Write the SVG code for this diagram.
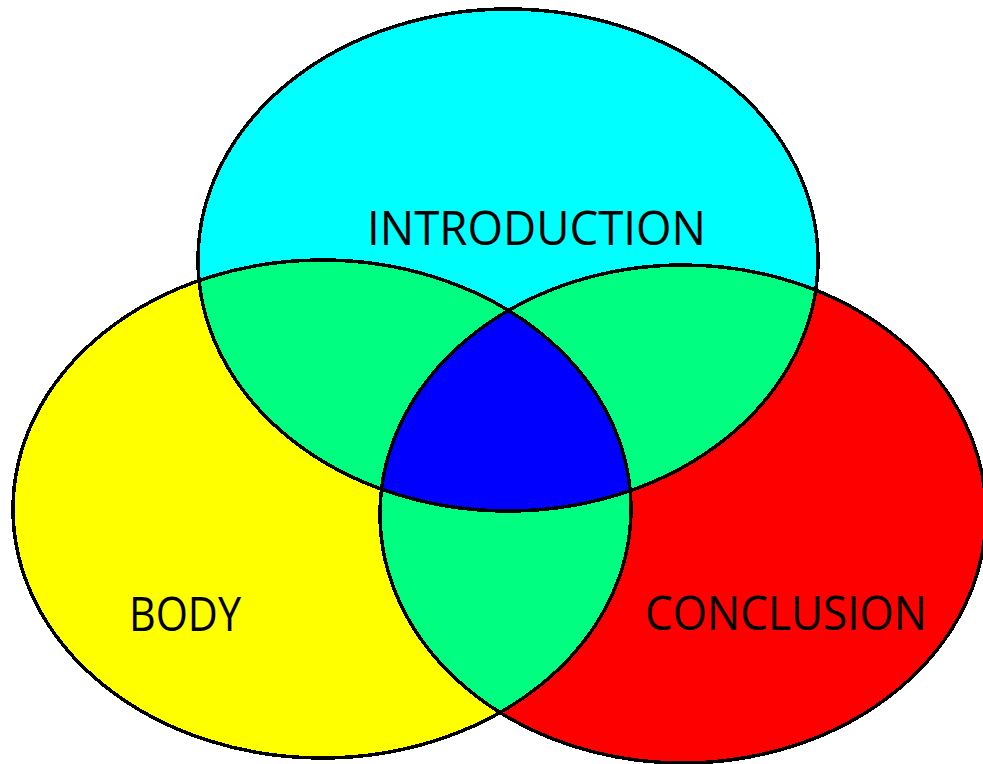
<svg xmlns="http://www.w3.org/2000/svg" width="983" height="764" viewBox="0 0 983 764">
<style>
.o{fill:none;stroke:#000;stroke-width:3.5}
.t{font-family:"Open Sans","Liberation Sans",sans-serif;font-size:48px;fill:#000}
</style>
<defs>
<ellipse id="eI" cx="508" cy="260" rx="310" ry="251"/>
<ellipse id="eB" cx="322" cy="509" rx="309" ry="249"/>
<ellipse id="eC" cx="683" cy="514" rx="303" ry="249"/>
<clipPath id="cI"><use href="#eI"/></clipPath>
<clipPath id="cB"><use href="#eB"/></clipPath>
<clipPath id="cC"><use href="#eC"/></clipPath>
</defs>
<rect width="983" height="764" fill="#fff"/>
<g shape-rendering="crispEdges">
<use href="#eI" fill="#00FFFF"/>
<use href="#eB" fill="#FFFF00"/>
<use href="#eC" fill="#FF0000"/>
<g clip-path="url(#cI)"><use href="#eB" fill="#00FF80"/><use href="#eC" fill="#00FF80"/></g>
<g clip-path="url(#cB)"><use href="#eC" fill="#00FF80"/></g>
<g clip-path="url(#cI)"><g clip-path="url(#cB)"><use href="#eC" fill="#0000FF"/></g></g>
<use href="#eI" class="o"/>
<use href="#eB" class="o"/>
<use href="#eC" class="o"/>
</g>
<text class="t" x="367" y="245" textLength="339" lengthAdjust="spacingAndGlyphs">INTRODUCTION</text>
<text class="t" x="129" y="631" textLength="112" lengthAdjust="spacingAndGlyphs">BODY</text>
<text class="t" x="645" y="630" textLength="282" lengthAdjust="spacingAndGlyphs">CONCLUSION</text>
</svg>
